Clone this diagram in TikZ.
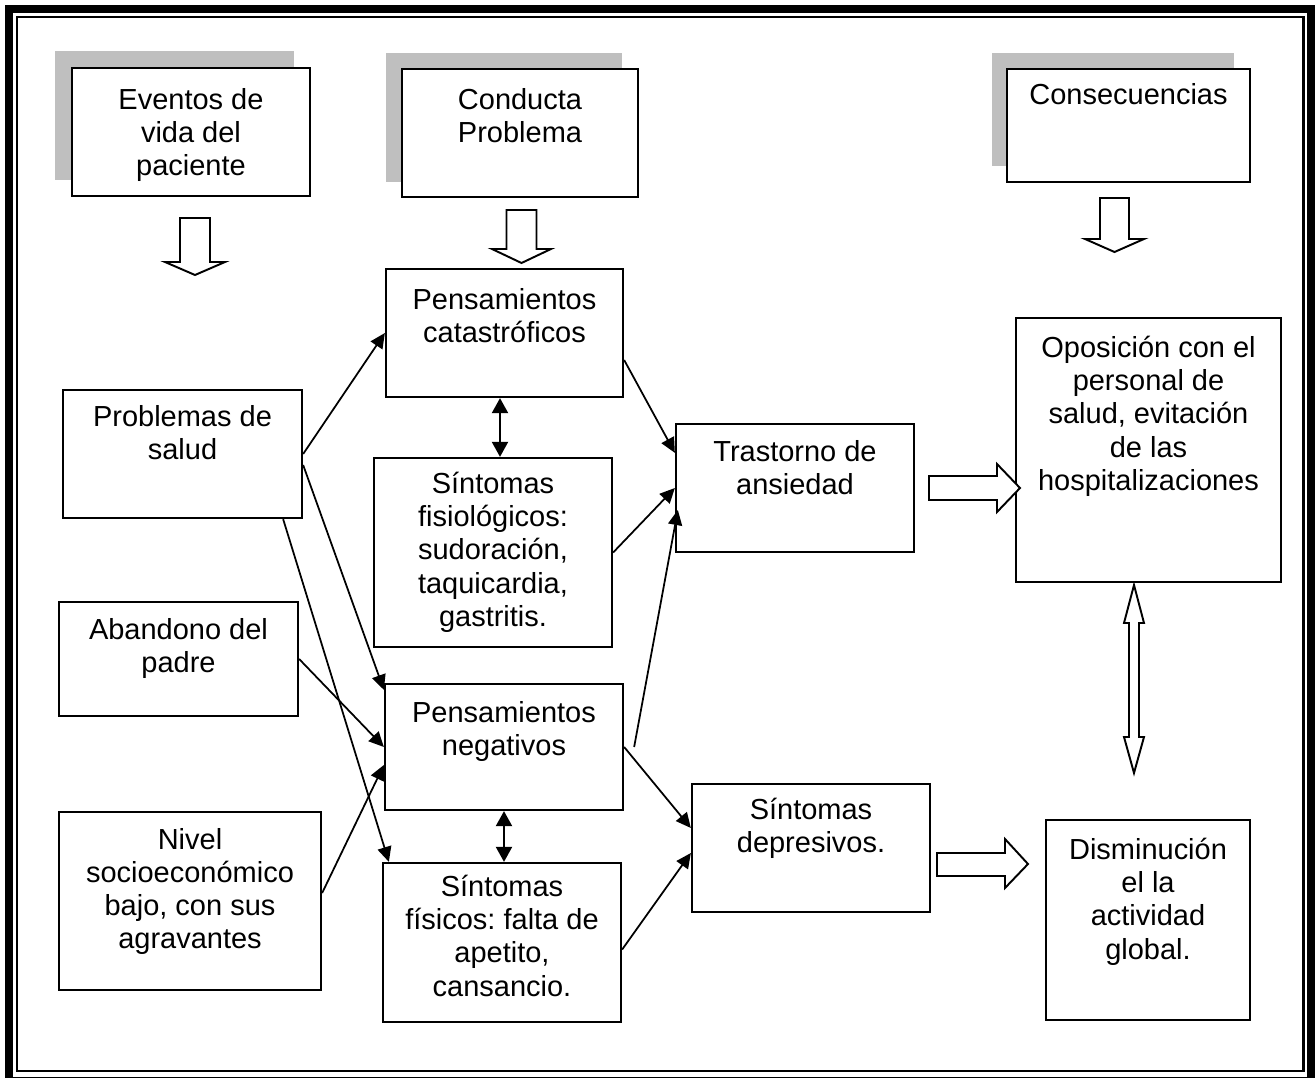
\documentclass[tikz,border=0pt]{standalone}
\usepackage{fontspec}
\setmainfont{Liberation Sans}
\usetikzlibrary{arrows.meta,fit}

\tikzset{
  caja/.style={draw, line width=1.3pt, inner sep=0pt},
  texto/.style={anchor=north, align=center, inner sep=0pt,
    font=\fontsize{16.5}{18.9}\selectfont\frenchspacing},
  sombra/.style={fill=black!25},
  flecha/.style={-{Triangle[length=0.3cm,width=0.28cm]}, line width=1pt},
  doble/.style={{Triangle[length=0.3cm,width=0.32cm]}-{Triangle[length=0.3cm,width=0.32cm]}, line width=1.2pt},
  hueca/.style={draw, line width=1.1pt, fill=white}
}

\begin{document}
\begin{tikzpicture}[x=0.02cm, y=-0.02cm]
  \useasboundingbox (0,0) rectangle (1315,1078);
  % marco doble
  \draw[line width=0.17cm] (9,9) rectangle (1311,1081);
  \draw[line width=0.045cm] (17,17) rectangle (1303.5,1071);

  % encabezados con sombra
  \fill[sombra] (55,51) rectangle (294,180);
  \node[caja, fill=white, fit={(72,68) (310,196)}] (eventos) {};
  \node[texto] (eventos-t) at ([yshift=-0.42cm]eventos.north) {Eventos de\\vida del\\paciente};

  \fill[sombra] (386,53) rectangle (622,182);
  \node[caja, fill=white, fit={(402,69) (638,197)}] (conducta) {};
  \node[texto] (conducta-t) at ([yshift=-0.40cm]conducta.north) {Conducta\\Problema};

  \fill[sombra] (992,53) rectangle (1234,166);
  \node[caja, fill=white, fit={(1007,69) (1250,182)}] (consec) {};
  \node[texto] (consec-t) at ([yshift=-0.30cm]consec.north) {Consecuencias};

  % flechas huecas hacia abajo
  \draw[hueca] (180,218) -- (210,218) -- (210,262) -- (225,262) -- (195,275) -- (165,262) -- (180,262) -- cycle;
  \draw[hueca] (506.5,210) -- (536.5,210) -- (536.5,249) -- (551,249) -- (521.5,263) -- (492,249) -- (506.5,249) -- cycle;
  \draw[hueca] (1100,198) -- (1129,198) -- (1129,239) -- (1144,239) -- (1114.5,252) -- (1085,239) -- (1100,239) -- cycle;

  % columna izquierda
  \node[caja, fit={(63,390) (302,518)}] (salud) {};
  \node[texto] (salud-t) at ([yshift=-0.32cm]salud.north) {Problemas de\\salud};
  \node[caja, fit={(59,602) (298,716)}] (padre) {};
  \node[texto] (padre-t) at ([yshift=-0.34cm]padre.north) {Abandono del\\padre};
  \node[caja, fit={(59,812) (321,990)}] (nivel) {};
  \node[texto] (nivel-t) at ([yshift=-0.34cm]nivel.north) {Nivel\\socioeconómico\\bajo, con sus\\agravantes};

  % columna central
  \node[caja, fit={(386,269) (623,397)}] (catas) {};
  \node[texto] (catas-t) at ([yshift=-0.40cm]catas.north) {Pensamientos\\catastróficos};
  \node[caja, fit={(374,458) (612,647)}] (fisio) {};
  \node[texto] (fisio-t) at ([yshift=-0.30cm]fisio.north) {Síntomas\\fisiológicos:\\sudoración,\\taquicardia,\\gastritis.};
  \node[caja, fit={(385,684) (623,810)}] (negativos) {};
  \node[texto] (negativos-t) at ([yshift=-0.36cm]negativos.north) {Pensamientos\\negativos};
  \node[caja, fit={(383,863) (621,1022)}] (fisicos) {};
  \node[texto] (fisicos-t) at ([yshift=-0.26cm]fisicos.north) {Síntomas\\físicos: falta de\\apetito,\\cansancio.};

  % trastornos
  \node[caja, fit={(676,424) (914,552)}] (ansiedad) {};
  \node[texto] (ansiedad-t) at ([yshift=-0.34cm]ansiedad.north) {Trastorno de\\ansiedad};
  \node[caja, fit={(692,784) (930,912)}] (depres) {};
  \node[texto] (depres-t) at ([yshift=-0.30cm]depres.north) {Síntomas\\depresivos.};

  % consecuencias
  \node[caja, fit={(1016,318) (1281,582)}] (oposicion) {};
  \node[texto] (oposicion-t) at ([yshift=-0.38cm]oposicion.north) {Oposición con el\\personal de\\salud, evitación\\de las\\hospitalizaciones};
  \node[caja, fit={(1046,820) (1250,1020)}] (actividad) {};
  \node[texto] (actividad-t) at ([yshift=-0.38cm]actividad.north) {Disminución\\el la\\actividad\\global.};

  % relaciones
  \draw[flecha] (salud.east) -- (catas.west);
  \draw[flecha] ([yshift=-0.22cm]salud.east) -- ([yshift=-0.14cm]negativos.north west);
  \draw[flecha] ([xshift=-0.4cm]salud.south east) -- ([xshift=0.14cm]fisicos.north west);
  \draw[flecha] (padre.east) -- (negativos.west);
  \draw[flecha] ([yshift=0.16cm]nivel.east) -- ([yshift=-0.36cm]negativos.west);
  \draw[flecha] ([yshift=-0.54cm]catas.east) -- ([yshift=-0.6cm]ansiedad.north west);
  \draw[flecha] (fisio.east) -- (ansiedad.west);
  \draw[flecha] ([xshift=0.2cm]negativos.east) -- ([xshift=0.06cm,yshift=-0.44cm]ansiedad.west);
  \draw[flecha] (negativos.east) -- ([yshift=0.4cm]depres.west);
  \draw[flecha] ([yshift=-0.14cm]fisicos.east) -- ([yshift=-0.1cm]depres.west);

  \draw[doble] ([xshift=-0.09cm]catas.south) -- ([xshift=-0.09cm]catas.south |- fisio.north);
  \draw[doble] (negativos.south) -- (negativos.south |- fisicos.north);

  % flechas huecas
  \draw[hueca] (929,476) -- (997,476) -- (997,464) -- (1020,488) -- (997,512) -- (997,500) -- (929,500) -- cycle;
  \draw[hueca] (937,853) -- (1005,853) -- (1005,839) -- (1028,864) -- (1005,888) -- (1005,876) -- (937,876) -- cycle;
  \draw[hueca] (1134,585) -- (1144,623) -- (1139,623) -- (1139,737) -- (1144,737) -- (1134,773)
    -- (1124,737) -- (1129,737) -- (1129,623) -- (1124,623) -- cycle;
\end{tikzpicture}
\end{document}
